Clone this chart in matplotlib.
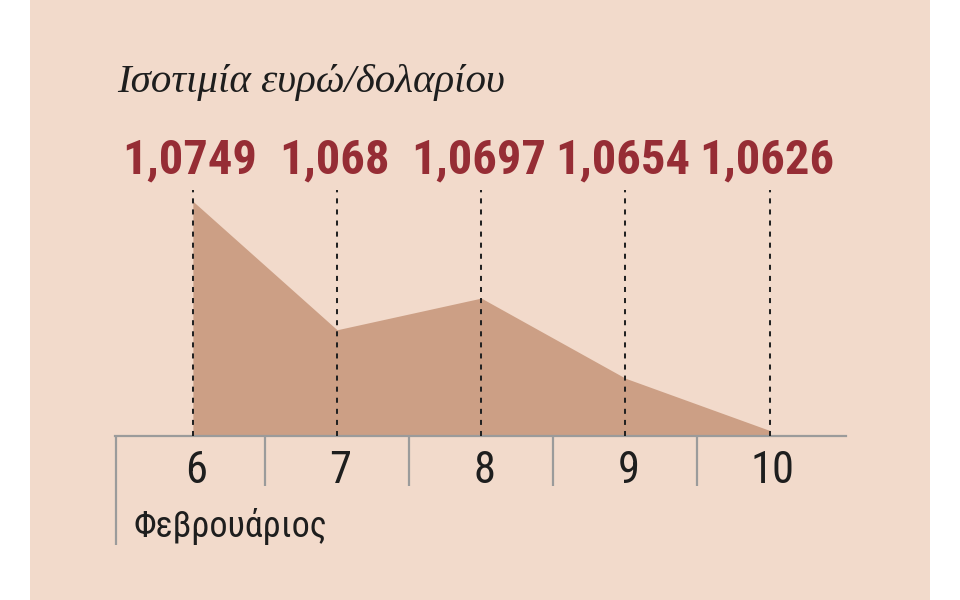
import matplotlib
matplotlib.use("Agg")
import matplotlib.pyplot as plt
from matplotlib.patches import Rectangle
from matplotlib import font_manager

days = [6, 7, 8, 9, 10]
rates = [1.0749, 1.068, 1.0697, 1.0654, 1.0626]
rate_labels = ["1,0749", "1,068", "1,0697", "1,0654", "1,0626"]
day_labels = ["6", "7", "8", "9", "10"]
title = "Ισοτιμία ευρώ/δολαρίου"
month = "Φεβρουάριος"

# a narrow sans if one is installed, else Roboto
names = {f.name for f in font_manager.fontManager.ttflist}
narrow = None
for cand in ["Liberation Sans Narrow", "DejaVu Sans Condensed", "Noto Sans Condensed",
             "Roboto Condensed", "Open Sans Condensed"]:
    if cand in names:
        narrow = cand
        break
if narrow:
    sans, big, mid, small = narrow, 35, 32, 26
else:
    sans, big, mid, small = "Roboto", 30, 27, 23

panel = "#f2dacb"
fill_col = "#cc9f85"
red = "#962d35"
grey = "#9b9b9b"

fig = plt.figure(figsize=(9.6, 6), dpi=100, facecolor="white")
fig.patches.append(Rectangle((30 / 960, 0), 900 / 960, 1, transform=fig.transFigure,
                             facecolor=panel, edgecolor="none", zorder=-1))

ax = fig.add_axes([115 / 960, 1 - 436 / 600, 731 / 960, 246 / 600])
ax.set_facecolor("none")
ax.set_xlim(5.46, 10.53)
ax.set_ylim(1.0623, 1.0755)

ax.fill_between(days, rates, 1.0623, color=fill_col, linewidth=0, zorder=1)
ax.vlines(days, 1.0623, 1.0755, colors="#222222", linewidth=1.45,
          linestyles=(0, (2.5, 3)), zorder=3)

for s in ["top", "right", "left"]:
    ax.spines[s].set_visible(False)
ax.spines["bottom"].set_color(grey)
ax.spines["bottom"].set_linewidth(1.6)
ax.set_xticks([])
ax.set_yticks([])

tr = ax.get_xaxis_transform()
# separators under the axis
ax.vlines([6.5, 7.5, 8.5, 9.5], 0, -0.203, transform=tr, colors=grey,
          linewidth=1.6, clip_on=False)
ax.vlines([5.465], 0, -0.443, transform=tr, colors=grey, linewidth=1.6, clip_on=False)

for d, lab in zip(days, day_labels):
    ax.text(d + 0.02, -0.191, lab, transform=tr, ha="center", va="baseline",
            fontsize=mid, family=[sans, "DejaVu Sans"], color="#1e1e1e")

for d, lab in zip(days, rate_labels):
    ax.text(d - 0.02, 1.069, lab, transform=tr, ha="center", va="baseline",
            fontsize=big, fontweight="bold", family=[sans, "DejaVu Sans"],
            color=red, clip_on=False)

ax.text(5.585, -0.41, month, transform=tr, ha="left", va="baseline",
        fontsize=small, family=[sans, "DejaVu Sans"], color="#1e1e1e")

fig.text(117 / 960, 1 - 92 / 600, title, ha="left", va="baseline", fontsize=29.5,
         family=["Liberation Serif", "DejaVu Serif"], style="italic", color="#1e1e1e")

fig.savefig("out.png", dpi=100, facecolor="white")
